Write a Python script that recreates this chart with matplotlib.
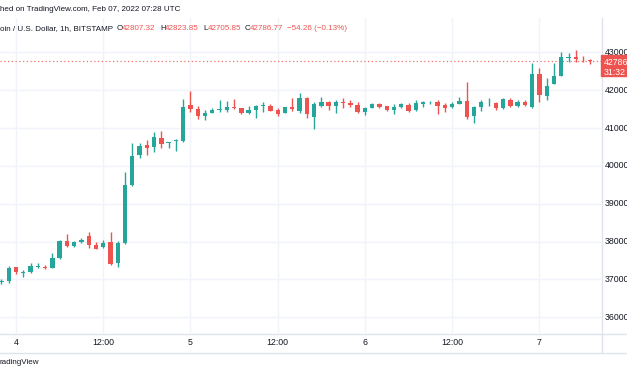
import matplotlib
matplotlib.use("Agg")
import matplotlib.pyplot as plt
from matplotlib.patches import Rectangle
from matplotlib.lines import Line2D
import numpy as np
import pandas as pd

# ---- data (BTC/USD, 1h, Bitstamp) ----
start_time = "2022-02-03 22:00"
opens = [36920, 36950, 37320, 37170, 37190, 37320, 37335, 37310, 37570, 38020,
         37880, 37995, 38150, 37900, 37850, 37980, 37420, 37950, 39495, 40290,
         40555, 40510, 40745, 40600, 40650, 40670, 41610, 41505, 41310, 41410,
         41480, 41490, 41550, 41525, 41400, 41470, 41580, 41585, 41480, 41410,
         41550, 41460, 41790, 41285, 41585, 41700, 41585, 41690, 41660, 41610,
         41435, 41525, 41650, 41585, 41480, 41550, 41610, 41480, 41640, 41680,
         41685, 41610, 41550, 41640, 41730, 41330, 41550, 41680, 41660, 41525,
         41745, 41595, 41700, 41570, 42425, 41860, 42165, 42380, 42860, 42870,
         42850, 42807.32]
highs = [37000, 37360, 37330, 37240, 37440, 37425, 37370, 37705, 38040, 38200,
         38006, 38100, 38260, 37980, 38040, 38245, 38010, 39830, 40600, 40600,
         40690, 40905, 40930, 40640, 40700, 41770, 41990, 41580, 41480, 41530,
         41745, 41720, 41770, 41530, 41590, 41600, 41700, 41630, 41525, 41570,
         41790, 41920, 41830, 41700, 41830, 41710, 41745, 41790, 41740, 41680,
         41550, 41670, 41660, 41590, 41630, 41660, 41660, 41745, 41725, 41725,
         41745, 41655, 41680, 41830, 42230, 41585, 41740, 41790, 41680, 41790,
         41790, 41740, 41740, 42715, 42580, 42320, 42715, 43005, 42995, 43065,
         42910, 42823.85]
lows = [36880, 36895, 37140, 37055, 37170, 37290, 37280, 37300, 37550, 37860,
        37860, 37950, 37820, 37800, 37840, 37380, 37335, 37930, 39480, 40220,
        40290, 40375, 40480, 40465, 40400, 40640, 41420, 41240, 41205, 41400,
        41420, 41420, 41510, 41380, 41380, 41260, 41435, 41440, 41330, 41390,
        41460, 41390, 41260, 40975, 41560, 41490, 41410, 41540, 41570, 41390,
        41345, 41520, 41525, 41440, 41365, 41540, 41420, 41460, 41550, 41630,
        41365, 41435, 41530, 41635, 41240, 41145, 41460, 41585, 41480, 41495,
        41550, 41560, 41585, 41525, 41685, 41745, 42165, 42370, 42740, 42740,
        42740, 42705.85]
closes = [36950, 37310, 37200, 37190, 37360, 37335, 37310, 37556, 38022, 37882,
          37995, 38040, 37910, 37810, 37955, 37405, 37950, 39495, 40270, 40535,
          40465, 40755, 40570, 40620, 40690, 41566, 41505, 41320, 41410, 41490,
          41505, 41550, 41525, 41400, 41480, 41585, 41590, 41460, 41380, 41550,
          41500, 41805, 41365, 41640, 41700, 41585, 41700, 41660, 41610, 41420,
          41525, 41630, 41565, 41480, 41565, 41630, 41450, 41655, 41680, 41690,
          41590, 41540, 41630, 41720, 41285, 41550, 41700, 41690, 41540, 41760,
          41590, 41700, 41610, 42425, 41875, 42120, 42380, 42870, 42880, 42830,
          42841.03, 42786.77]
price_ticks = [36000, 37000, 38000, 39000, 40000, 41000, 42000, 43000]
countdown = "31:32"
published = "hed on TradingView.com, Feb 07, 2022 07:28 UTC"
symbol_desc = "oin / U.S. Dollar, 1h, BITSTAMP"
brand = "radingView"

UP = "#26a69a"
DOWN = "#ef5350"
TXT = "#131722"
GRID = "#f0f3fa"
BORDER = "#e0e3eb"

W, H = 627, 376
plt.rcParams['font.family'] = ['Liberation Sans', 'DejaVu Sans']
HDR = 5.8

fig = plt.figure(figsize=(W / 100, H / 100), dpi=100)
fig.patch.set_facecolor("white")

def fx(px):
    return px / W

def fy(py):
    return 1 - py / H

# axes: pixel box x 0..601, y 18..333
ax_top, ax_bot, ax_right = 18, 333, 601
ax = fig.add_axes([0, fy(ax_bot), fx(ax_right), (ax_bot - ax_top) / H])
ax.set_facecolor("white")

times = pd.date_range(start_time, periods=len(opens), freq="h")
xs = np.asarray((times - times[0]) / pd.Timedelta(hours=1), dtype=float)

ax.set_xlim(-0.2, 82.47)
ax.set_ylim(35581, 43912)

# grid
for p in price_ticks:
    ax.axhline(p, color=GRID, lw=1, zorder=0)
tick_pos = []
tick_lab = []
for x, t in zip(xs, times):
    if t.hour == 0:
        tick_pos.append(x)
        tick_lab.append(str(t.day))
    elif t.hour == 12:
        tick_pos.append(x)
        tick_lab.append("12:00")
for x in tick_pos:
    ax.axvline(x, color=GRID, lw=1, zorder=0)

# candles
o = np.array(opens, float); h = np.array(highs, float)
l = np.array(lows, float); c = np.array(closes, float)
cols = [UP if cc >= oo else DOWN for oo, cc in zip(o, c)]
min_body = 22
bottoms = np.minimum(o, c)
heights = np.maximum(np.abs(c - o), min_body)
ax.vlines(xs, l, h, colors=cols, lw=1.0, zorder=2)
ax.bar(xs, heights, bottom=bottoms, width=0.6, color=cols, linewidth=0, zorder=3)

# last price dotted line
ax.axhline(c[-1], color=DOWN, lw=0.9, linestyle=(0, (1, 2)), alpha=0.8, zorder=1)

for s in ax.spines.values():
    s.set_visible(False)
ax.set_xticks([]); ax.set_yticks([])

# borders
fig.add_artist(Line2D([fx(601.5), fx(601.5)], [fy(18), fy(352)], color=BORDER, lw=1, transform=fig.transFigure))
fig.add_artist(Line2D([0, 1], [fy(333.5), fy(333.5)], color=BORDER, lw=1, transform=fig.transFigure))
fig.add_artist(Line2D([0, 1], [fy(352.5), fy(352.5)], color=BORDER, lw=1, transform=fig.transFigure))

# price axis labels
to_disp = ax.transData
for p in price_ticks:
    _, yd = to_disp.transform((0, p))
    fig.text(fx(605), yd / fig.dpi / fig.get_figheight(), str(p), fontsize=6.3, color=TXT,
             ha="left", va="center")

# time labels
for x, lab in zip(tick_pos, tick_lab):
    xd, _ = to_disp.transform((x, 0))
    fig.text(xd / fig.dpi / fig.get_figwidth(), fy(342.5), lab, fontsize=6.3, color=TXT,
             ha="center", va="center")

# last price box
_, yl = to_disp.transform((0, c[-1]))
ypix = H - yl / fig.dpi * 100
fig.add_artist(Rectangle((fx(601), fy(ypix + 15.5)), fx(26), 21 / H, color=DOWN,
                         transform=fig.transFigure, zorder=5))
fig.text(fx(604), fy(ypix + 1.5), f"{c[-1]:.2f}", fontsize=6.3, color="white",
         ha="left", va="center", zorder=6)
fig.text(fx(604), fy(ypix + 11.5), countdown, fontsize=6.3, color="white",
         ha="left", va="center", zorder=6)

# header
fig.text(0, fy(9.3), published, fontsize=HDR, color=TXT, ha="left", va="center")
fig.text(0, fy(28.3), symbol_desc, fontsize=HDR, color=TXT, ha="left", va="center")
chg = c[-1] - c[-2]
pct = chg / c[-2] * 100
items = [("O", o[-1], 117), ("H", h[-1], 160), ("L", l[-1], 203), ("C", c[-1], 245)]
for lab, val, xp in items:
    fig.text(fx(xp), fy(28.3), lab, fontsize=HDR, color=TXT, ha="left", va="center")
    fig.text(fx(xp + 5), fy(28.3), f"{val:.2f}", fontsize=HDR, color=DOWN, ha="left", va="center")
sign = "\u2212" if chg < 0 else "+"
fig.text(fx(287), fy(28.3), f"{sign}{abs(chg):.2f} ({sign}{abs(pct):.2f}%)", fontsize=HDR,
         color=DOWN, ha="left", va="center")

fig.text(0, fy(363), brand, fontsize=HDR, color=TXT, ha="left", va="center")

fig.savefig("out.png", dpi=100, facecolor="white")
